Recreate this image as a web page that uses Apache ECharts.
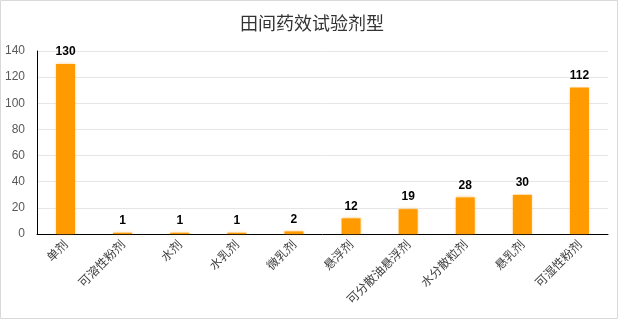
<!DOCTYPE html>
<html><head><meta charset="utf-8">
<script src="https://cdn.jsdelivr.net/npm/echarts@6/dist/echarts.min.js"></script>
<style>html,body{margin:0;padding:0;background:#fff}#c{width:624px;height:321px}</style>
</head><body><div id="c"></div>
<script>
const categories = ['单剂','可溶性粉剂','水剂','水乳剂','微乳剂','悬浮剂','可分散油悬浮剂','水分散粒剂','悬乳剂','可湿性粉剂'];
const values = [130, 1, 1, 1, 2, 12, 19, 28, 30, 112];
const title = '田间药效试验剂型';
const chart = echarts.init(document.getElementById('c'));
chart.setOption({
  animation: false,
  backgroundColor: '#fff',
  title: { text: title, left: 'center', top: 9, textStyle: { fontFamily: 'Noto Sans CJK SC', fontSize: 18, fontWeight: 'normal', color: '#333' } },
  graphic: [{ type: 'rect', shape: { x: 0.5, y: 0.5, width: 617, height: 318 }, style: { fill: 'none', stroke: '#d9d9d9', lineWidth: 1 } }],
  grid: { left: 37, right: 16, top: 51, bottom: 87 },
  xAxis: {
    type: 'category', data: categories,
    axisLine: { lineStyle: { color: '#000', width: 1 } },
    axisTick: { show: false },
    axisLabel: { rotate: 45, interval: 0, color: '#404040', fontSize: 12, fontFamily: 'Noto Sans CJK SC', margin: 8 }
  },
  yAxis: {
    type: 'value', min: 0, max: 140, interval: 20,
    axisLine: { show: true, lineStyle: { color: '#000', width: 1 } },
    axisTick: { show: false },
    axisLabel: { color: '#595959', fontSize: 12, fontFamily: 'Liberation Sans', margin: 12 },
    splitLine: { lineStyle: { color: '#e6e6e6' } }
  },
  series: [{
    type: 'bar', data: values, barWidth: 19,
    itemStyle: { color: '#FF9A00', shadowColor: 'rgba(255,170,40,0.6)', shadowBlur: 3 },
    label: { show: true, position: 'top', color: '#000', fontWeight: 'bold', fontSize: 12, fontFamily: 'Liberation Sans', distance: 6 }
  }]
});
</script></body></html>
